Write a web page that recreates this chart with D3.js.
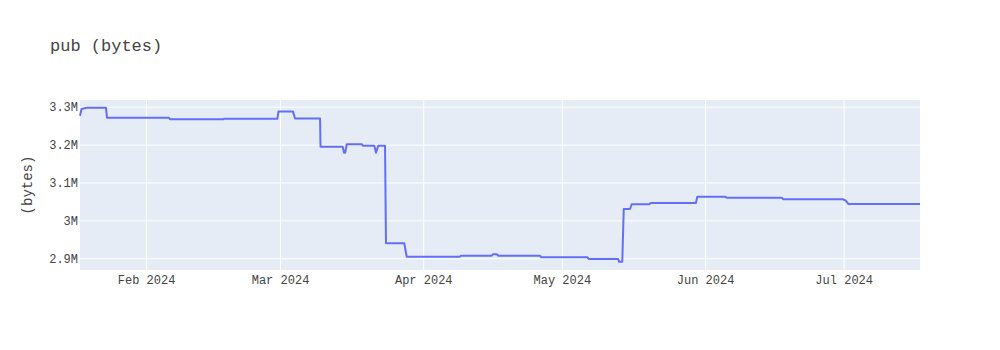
<!DOCTYPE html>
<html>
<head>
<meta charset="utf-8">
<script src="https://cdn.jsdelivr.net/npm/d3@7"></script>
<style>
  body { margin: 0; background: #fff; }
  svg text { font-family: "Courier New", "Liberation Mono", monospace; fill: #444; }
</style>
</head>
<body>
<svg id="chart"></svg>
<script>
// sample times and package size (bytes)
const dates = [
  '2024-01-17T17:00', '2024-01-18T01:00', '2024-01-19T04:00', '2024-01-23T08:00', '2024-01-23T13:00',
  '2024-02-05T23:30', '2024-02-06T04:30', '2024-02-17T16:00', '2024-02-17T21:00', '2024-02-29T10:00',
  '2024-02-29T16:00', '2024-03-03T19:30', '2024-03-04T06:00', '2024-03-09T16:00', '2024-03-09T18:30',
  '2024-03-14T13:30', '2024-03-14T20:30', '2024-03-15T03:00', '2024-03-15T10:30', '2024-03-18T16:30',
  '2024-03-18T23:00', '2024-03-21T10:00', '2024-03-21T18:30', '2024-03-22T06:30', '2024-03-23T17:30',
  '2024-03-23T22:30', '2024-03-27T21:30', '2024-03-28T10:00', '2024-04-08T23:00', '2024-04-09T04:00',
  '2024-04-15T19:30', '2024-04-16T02:30', '2024-04-16T21:30', '2024-04-17T06:00', '2024-04-26T06:30',
  '2024-04-26T13:00', '2024-05-06T12:00', '2024-05-06T19:30', '2024-05-13T05:00', '2024-05-13T09:00',
  '2024-05-14T02:00', '2024-05-14T09:30', '2024-05-15T18:00', '2024-05-16T03:00', '2024-05-19T22:00',
  '2024-05-20T05:30', '2024-05-30T00:30', '2024-05-30T07:30', '2024-06-05T07:30', '2024-06-05T16:30',
  '2024-06-17T14:00', '2024-06-17T22:30', '2024-06-30T22:00', '2024-07-01T10:30', '2024-07-01T23:30',
  '2024-07-17T12:30'
];
const sizes = [
  3276000, 3294000, 3297000, 3297000, 3271000,
  3271000, 3266700, 3266700, 3268000, 3268000,
  3287000, 3287000, 3269000, 3269000, 3194500,
  3194500, 3178600, 3178600, 3200800, 3200800,
  3197100, 3197100, 3178600, 3197100, 3197100,
  2939600, 2939600, 2904200, 2904200, 2906900,
  2906900, 2910500, 2910500, 2906900, 2906900,
  2902600, 2902600, 2898200, 2898200, 2891100,
  2891100, 3030000, 3030000, 3042500, 3042500,
  3045900, 3045900, 3062500, 3062500, 3059900,
  3059900, 3055600, 3055600, 3052000, 3043300,
  3043300
];
const yRange = [2869000, 3317600];
const titleText = 'pub (bytes)';
const yTitle = '(bytes)';

const W = 1000, H = 350;
const margin = { l: 80, r: 80, t: 100, b: 80 };
const pw = W - margin.l - margin.r, ph = H - margin.t - margin.b;

const parse = d3.timeParse('%Y-%m-%dT%H:%M');
const points = dates.map((d, i) => ({ t: parse(d), v: sizes[i] }));

const svg = d3.select('#chart').attr('width', W).attr('height', H);

const x = d3.scaleTime()
  .domain(d3.extent(points, d => d.t))
  .range([margin.l, margin.l + pw]);
const y = d3.scaleLinear()
  .domain(yRange)
  .range([margin.t + ph, margin.t]);

svg.append('rect')
  .attr('x', margin.l).attr('y', margin.t)
  .attr('width', pw).attr('height', ph)
  .attr('fill', '#E5ECF6');

// grid
const xTicks = x.ticks(d3.timeMonth.every(1));
const yTicks = y.ticks(5);

svg.append('g')
  .attr('transform', `translate(0,${margin.t + ph})`)
  .call(d3.axisBottom(x).tickValues(xTicks).tickSize(-ph).tickFormat(''))
  .call(g => g.select('.domain').remove())
  .call(g => g.selectAll('line').attr('stroke', '#fff').attr('stroke-width', 1));

svg.append('g')
  .attr('transform', `translate(${margin.l},0)`)
  .call(d3.axisLeft(y).tickValues(yTicks).tickSize(-pw).tickFormat(''))
  .call(g => g.select('.domain').remove())
  .call(g => g.selectAll('line').attr('stroke', '#fff').attr('stroke-width', 1));

// tick labels
svg.append('g')
  .attr('transform', `translate(0,${margin.t + ph})`)
  .call(d3.axisBottom(x).tickValues(xTicks).tickSize(0).tickPadding(5).tickFormat(d3.timeFormat('%b %Y')))
  .call(g => g.select('.domain').remove())
  .call(g => g.selectAll('text').attr('font-size', 12).attr('fill', '#444'));

svg.append('g')
  .attr('transform', `translate(${margin.l},0)`)
  .call(d3.axisLeft(y).tickValues(yTicks).tickSize(0).tickPadding(2).tickFormat(d3.format('~s')))
  .call(g => g.select('.domain').remove())
  .call(g => g.selectAll('text').attr('font-size', 12).attr('fill', '#444'));

// line
const line = d3.line().x(d => x(d.t)).y(d => y(d.v));
svg.append('path')
  .datum(points)
  .attr('d', line)
  .attr('fill', 'none')
  .attr('stroke', '#636EFA')
  .attr('stroke-width', 2)
  .attr('stroke-linejoin', 'round');

// titles
svg.append('text')
  .attr('x', 50).attr('y', 51)
  .attr('font-size', 17)
  .text(titleText);

svg.append('text')
  .attr('transform', `translate(32,${margin.t + ph / 2}) rotate(-90)`)
  .attr('text-anchor', 'middle')
  .attr('font-size', 14)
  .text(yTitle);
</script>
</body>
</html>
